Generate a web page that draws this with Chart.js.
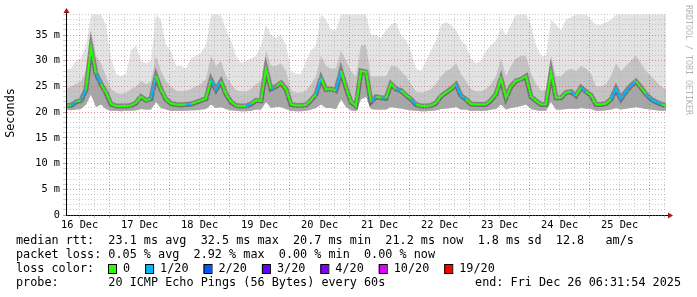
<!DOCTYPE html>
<html>
<head>
<meta charset="utf-8">
<script src="https://cdn.jsdelivr.net/npm/chart.js@4/dist/chart.umd.min.js"></script>
<style>
    html, body { margin: 0; padding: 0; background: #fff; }
</style>
</head>
<body>
<canvas id="pingChart" width="697" height="297"></canvas>
<script>
// Smokeping, 10 days, one sample every 2 hours from Dec 16 06:31:54
const sampleHours = Array.from({ length: 121 }, (_, i) => i * 2);

// median rtt (ms)
const medianRtt = [
    21.3, 21.3, 22.0, 22.3, 24.4, 32.5, 27.5, 25.5, 23.8, 21.6,
    21.2, 21.2, 21.2, 21.3, 21.8, 23.0, 22.3, 22.6, 27.0, 24.4,
    22.5, 21.7, 21.5, 21.4, 21.5, 21.6, 21.9, 22.3, 22.6, 26.3,
    24.4, 26.0, 23.5, 22.0, 21.3, 21.2, 21.2, 21.6, 22.3, 22.2,
    28.4, 24.5, 25.0, 25.7, 24.5, 21.5, 21.3, 21.3, 21.4, 22.3,
    23.5, 26.6, 24.4, 24.5, 24.2, 28.0, 24.8, 22.0, 21.2, 28.0,
    27.8, 22.0, 23.0, 22.8, 22.7, 25.5, 24.5, 24.2, 23.3, 22.5,
    21.5, 21.2, 21.2, 21.3, 21.8, 23.1, 23.8, 24.5, 25.4, 23.2,
    22.5, 21.6, 21.5, 21.5, 21.5, 22.3, 23.5, 26.5, 22.8, 25.0,
    26.1, 26.4, 27.0, 23.0, 22.2, 21.5, 21.5, 27.7, 22.8, 22.8,
    23.8, 24.0, 23.2, 24.8, 24.0, 23.3, 21.5, 21.5, 21.7, 22.5,
    24.6, 22.6, 24.0, 25.2, 26.0, 24.8, 23.5, 22.5, 22.0, 21.6,
    21.2
];

// smoke: slowest ping, upper bulk of pings, fastest ping (ms)
const smokeTop = [
    28.3, 28.5, 30.0, 30.5, 33.0, 39.0, 39.0, 39.0, 37.0, 30.5,
    27.5, 27.0, 27.5, 32.0, 33.0, 30.0, 29.5, 30.0, 39.0, 38.0,
    33.0, 32.0, 29.0, 29.0, 28.5, 30.5, 31.0, 31.5, 33.0, 39.0,
    39.0, 39.0, 36.0, 34.0, 31.0, 29.5, 30.0, 30.5, 31.0, 33.0,
    37.0, 35.0, 34.5, 35.0, 33.0, 28.0, 27.5, 27.5, 30.0, 32.0,
    33.0, 39.0, 38.0, 36.0, 36.0, 39.0, 39.0, 39.0, 39.0, 39.0,
    39.0, 35.0, 35.0, 34.5, 36.0, 37.0, 37.5, 35.0, 34.0, 32.0,
    28.5, 28.0, 30.0, 32.0, 34.0, 37.0, 37.5, 37.0, 36.0, 34.0,
    33.0, 30.5, 29.5, 30.0, 32.0, 33.0, 34.0, 36.5, 35.0, 37.0,
    39.0, 39.0, 39.0, 37.0, 33.0, 31.0, 31.0, 38.0, 37.0, 36.0,
    38.0, 38.5, 39.0, 39.0, 39.0, 38.0, 37.0, 37.0, 37.5, 38.0,
    39.0, 39.0, 39.0, 39.0, 39.0, 39.0, 39.0, 39.0, 39.0, 39.0,
    39.0
];
const smokeUpper = [
    24.5, 25.0, 25.5, 26.0, 28.0, 36.0, 31.0, 29.5, 27.0, 24.5,
    23.8, 23.6, 23.8, 24.5, 25.0, 26.0, 25.5, 26.0, 31.0, 28.0,
    26.0, 25.0, 24.2, 24.0, 24.2, 24.5, 25.0, 25.5, 26.5, 31.0,
    29.0, 30.0, 27.0, 25.5, 24.3, 24.0, 24.0, 24.5, 25.5, 26.0,
    32.0, 29.0, 29.0, 29.5, 28.0, 24.2, 23.8, 23.8, 24.2, 25.5,
    27.0, 31.0, 29.0, 28.5, 28.5, 32.0, 30.0, 28.0, 27.0, 33.0,
    33.0, 27.0, 27.0, 27.0, 27.0, 29.0, 29.0, 28.0, 27.0, 25.5,
    24.0, 23.8, 24.0, 24.5, 25.5, 27.0, 28.0, 28.5, 29.5, 27.5,
    26.0, 24.5, 24.0, 24.0, 24.5, 25.5, 27.0, 30.5, 27.0, 29.0,
    30.5, 31.0, 31.0, 27.5, 25.5, 24.2, 24.2, 31.0, 27.0, 27.0,
    28.0, 28.5, 28.0, 29.0, 28.5, 27.5, 25.0, 25.0, 25.5, 27.0,
    29.5, 28.0, 29.0, 30.0, 31.0, 29.5, 28.0, 27.0, 26.0, 25.0,
    24.5
];
const smokeLow = [
    20.5, 20.4, 20.5, 20.6, 21.5, 23.5, 21.0, 21.5, 20.6, 20.3,
    20.3, 20.2, 20.3, 20.3, 20.4, 20.6, 20.5, 20.5, 22.0, 20.8,
    20.5, 20.3, 20.3, 20.3, 20.3, 20.4, 20.4, 20.5, 20.6, 21.5,
    20.8, 21.0, 20.6, 20.4, 20.3, 20.2, 20.2, 20.3, 20.5, 20.5,
    22.0, 20.8, 21.0, 21.0, 20.6, 20.3, 20.2, 20.2, 20.3, 20.5,
    20.8, 21.5, 20.8, 20.8, 20.6, 22.5, 21.0, 20.4, 20.2, 22.5,
    23.0, 20.6, 20.5, 20.5, 20.5, 21.0, 20.8, 20.7, 20.5, 20.4,
    20.3, 20.2, 20.2, 20.3, 20.4, 20.6, 20.7, 20.8, 21.0, 20.5,
    20.5, 20.3, 20.3, 20.3, 20.3, 20.5, 20.6, 21.5, 20.5, 20.8,
    21.0, 21.2, 21.5, 20.6, 20.4, 20.3, 20.3, 22.0, 20.5, 20.5,
    20.6, 20.7, 20.6, 20.8, 20.7, 20.6, 20.3, 20.3, 20.4, 20.5,
    20.8, 20.5, 20.7, 20.8, 21.0, 20.8, 20.6, 20.5, 20.4, 20.3,
    20.3
];

// samples where 1 of 20 pings was lost
const lossAt = [2, 4, 7, 18, 25, 30, 31, 37, 42, 51, 55, 62, 64, 67, 70, 79, 80,
    102, 104, 110, 111, 112, 113, 114, 117, 118, 119];

const dayLabels = ['16 Dec', '17 Dec', '18 Dec', '19 Dec', '20 Dec',
    '21 Dec', '22 Dec', '23 Dec', '24 Dec', '25 Dec'];
const yTickValues = [0, 5, 10, 15, 20, 25, 30, 35];
const yTickLabels = ['0', '5 m', '10 m', '15 m', '20 m', '25 m', '30 m', '35 m'];

const lossColors = ['#26ff00', '#00b8ff', '#0059ff', '#5e00ff', '#7e00ff', '#dd00ff', '#ff0000'];
const lossLabels = ['0', '1/20', '2/20', '3/20', '4/20', '10/20', '19/20'];
const rttStats = ['23.1 ms avg', '32.5 ms max', '20.7 ms min', '21.2 ms now', '1.8 ms sd', '12.8   am/s'];
const lossStats = ['0.05 % avg', '2.92 % max', '0.00 % min', '0.00 % now'];
const probeText = '20 ICMP Echo Pings (56 Bytes) every 60s';
const endText = 'end: Fri Dec 26 06:31:54 2025';

// first noon after start (hours), midnight is 12h later
const firstNoon = 5.4683;
const MONO = '"DejaVu Sans Mono", "Liberation Mono", monospace';
const RED_GRID = 'rgba(215, 70, 70, 0.6)';
const GRAY_GRID = 'rgba(170, 170, 170, 0.6)';

function lossColor(i) {
    return lossAt.includes(i) ? lossColors[1] : lossColors[0];
}

// Texte, Pfeile und Legende im RRDtool-Stil
const rrdDecor = {
    id: 'rrdDecor',
    afterDraw(chart) {
        const { ctx, chartArea: a } = chart;
        ctx.save();

        // axis extensions and arrows
        ctx.strokeStyle = '#000';
        ctx.lineWidth = 1;
        ctx.beginPath();
        ctx.moveTo(a.left + 0.5, a.top);
        ctx.lineTo(a.left + 0.5, a.top - 4);
        ctx.moveTo(a.right, a.bottom + 0.5);
        ctx.lineTo(a.right + 4, a.bottom + 0.5);
        ctx.stroke();
        ctx.fillStyle = '#a01818';
        ctx.beginPath();
        ctx.moveTo(a.left + 0.5, a.top - 6);
        ctx.lineTo(a.left - 2.5, a.top - 1);
        ctx.lineTo(a.left + 3.5, a.top - 1);
        ctx.closePath();
        ctx.fill();
        ctx.beginPath();
        ctx.moveTo(a.right + 7, a.bottom + 0.5);
        ctx.lineTo(a.right + 2, a.bottom - 2.5);
        ctx.lineTo(a.right + 2, a.bottom + 3.5);
        ctx.closePath();
        ctx.fill();

        // y axis title
        ctx.fillStyle = '#000';
        ctx.font = '11.8px ' + MONO;
        ctx.textAlign = 'center';
        ctx.textBaseline = 'middle';
        ctx.save();
        ctx.translate(11, 113);
        ctx.rotate(-Math.PI / 2);
        ctx.fillText('Seconds', 0, 0);
        ctx.restore();

        // watermark
        ctx.save();
        ctx.translate(688, 5);
        ctx.rotate(Math.PI / 2);
        ctx.fillStyle = '#b4b4b4';
        ctx.font = '8.3px ' + MONO;
        ctx.textAlign = 'left';
        ctx.fillText('RRDTOOL / TOBI OETIKER', 0, 0);
        ctx.restore();

        // legend rows
        ctx.textAlign = 'left';
        ctx.fillText('median rtt:  ' + rttStats.join('  '), 16, 241);
        ctx.fillText('packet loss: ' + lossStats.join('  '), 16, 255);
        ctx.fillText('loss color:', 16, 269);
        let x = 108;
        lossLabels.forEach((lbl, i) => {
            ctx.fillStyle = lossColors[i];
            ctx.fillRect(x, 264.5, 8, 9);
            ctx.strokeStyle = '#000';
            ctx.strokeRect(x + 0.5, 264.5, 8, 9);
            ctx.fillStyle = '#000';
            ctx.fillText(lbl, x + 15, 269);
            x += 15 + ctx.measureText(lbl).width + 15;
        });
        ctx.fillText('probe:       ' + probeText, 16, 283);
        ctx.textAlign = 'right';
        ctx.fillText(endText, 681, 283);
        ctx.restore();
    }
};

const pingChart = new Chart(
    document.getElementById('pingChart'),
    {
        type: 'line',
        data: {
            labels: sampleHours,
            datasets: [
                {
                    label: 'median',
                    data: medianRtt,
                    borderColor: lossColors[0],
                    borderWidth: 2,
                    segment: { borderColor: ctx => lossColor(ctx.p1DataIndex) },
                    pointRadius: 0,
                    fill: false,
                    order: 0
                },
                {
                    label: 'core',
                    data: medianRtt,
                    borderColor: 'rgba(30, 30, 30, 0.4)',
                    borderWidth: 5,
                    pointRadius: 0,
                    fill: false,
                    order: 1
                },
                {
                    label: 'below median',
                    data: medianRtt,
                    borderWidth: 0,
                    pointRadius: 0,
                    backgroundColor: '#a6a6a6',
                    fill: 5,
                    order: 2
                },
                {
                    label: 'upper smoke',
                    data: smokeUpper,
                    borderWidth: 0,
                    pointRadius: 0,
                    backgroundColor: '#c4c4c4',
                    fill: 5,
                    order: 3
                },
                {
                    label: 'max smoke',
                    data: smokeTop,
                    borderWidth: 0,
                    pointRadius: 0,
                    backgroundColor: '#e3e3e3',
                    fill: 5,
                    order: 4
                },
                {
                    label: 'min smoke',
                    data: smokeLow,
                    borderWidth: 0,
                    pointRadius: 0,
                    fill: false,
                    order: 5
                }
            ]
        },
        options: {
            responsive: false,
            animation: false,
            layout: { padding: { left: 0, right: 31, top: 14, bottom: 62 } },
            plugins: {
                legend: { display: false },
                tooltip: { enabled: false }
            },
            scales: {
                x: {
                    type: 'linear',
                    min: 0,
                    max: 240,
                    afterBuildTicks: scale => {
                        const ticks = [];
                        for (let t = firstNoon; t <= 240; t += 6) ticks.push({ value: t });
                        scale.ticks = ticks;
                    },
                    afterFit: scale => { scale.height = 20; },
                    ticks: {
                        autoSkip: false,
                        maxRotation: 0,
                        padding: 1,
                        color: '#000',
                        font: { family: MONO, size: 10.3 },
                        callback: v => {
                            const k = Math.round((v - firstNoon) / 6);
                            return k % 4 === 0 ? dayLabels[k / 4] : '';
                        }
                    },
                    grid: {
                        z: 1,
                        tickLength: 3,
                        color: ctx => {
                            const k = Math.round((ctx.tick.value - firstNoon) / 6);
                            return k % 4 === 2 ? RED_GRID : GRAY_GRID;
                        }
                    },
                    border: { z: 1, color: '#000', width: 1, dash: [1, 2] }
                },
                y: {
                    min: 0,
                    max: 39.1,
                    afterBuildTicks: scale => {
                        scale.ticks = Array.from({ length: 40 }, (_, v) => ({ value: v }));
                    },
                    afterFit: scale => { scale.width = 66; },
                    ticks: {
                        autoSkip: false,
                        padding: 3,
                        color: '#000',
                        font: { family: MONO, size: 10.3 },
                        callback: v => {
                            const i = yTickValues.indexOf(v);
                            return i >= 0 ? yTickLabels[i] : '';
                        }
                    },
                    grid: {
                        z: 1,
                        tickLength: 3,
                        color: ctx => (ctx.tick.value % 5 === 0 ? RED_GRID : GRAY_GRID)
                    },
                    border: { z: 1, color: '#000', width: 1, dash: [1, 2] }
                }
            }
        },
        plugins: [rrdDecor]
    }
);
</script>
</body>
</html>
